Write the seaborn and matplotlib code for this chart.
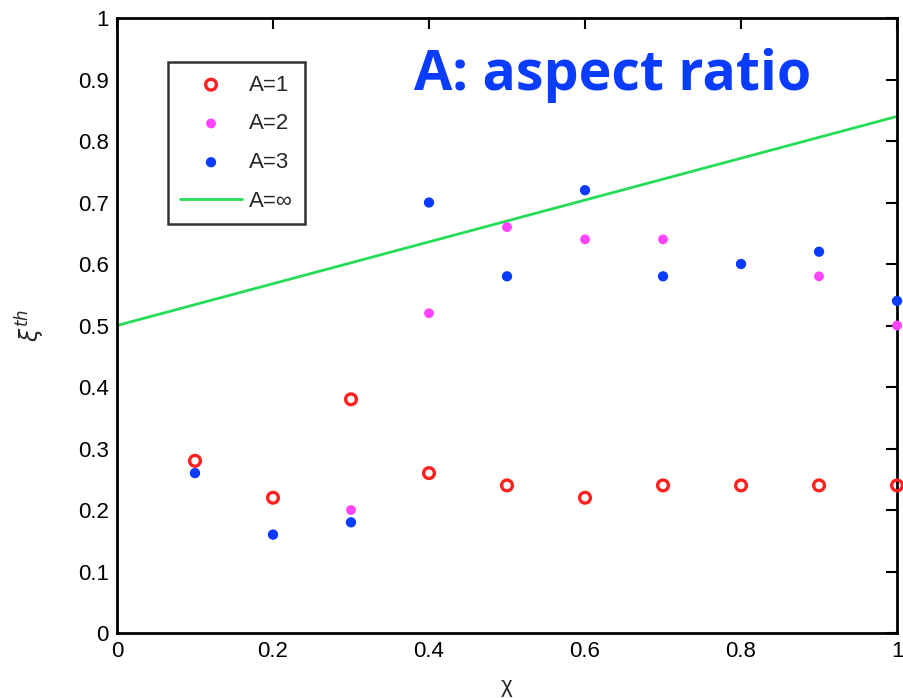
import seaborn as sns
import matplotlib.pyplot as plt
import pandas as pd

# Data
chi = [0.1, 0.2, 0.3, 0.4, 0.5, 0.6, 0.7, 0.8, 0.9, 1.0]
xi_a1 = [0.28, 0.22, 0.38, 0.26, 0.24, 0.22, 0.24, 0.24, 0.24, 0.24]
xi_a2 = [0.26, 0.16, 0.20, 0.52, 0.66, 0.64, 0.64, 0.60, 0.58, 0.50]
xi_a3 = [0.26, 0.16, 0.18, 0.70, 0.58, 0.72, 0.58, 0.60, 0.62, 0.54]
chi_inf = [0.0, 1.0]
xi_inf = [0.50, 0.84]

sns.set_style('white')
plt.rcParams['font.family'] = ['Liberation Sans', 'DejaVu Sans']

fig = plt.figure(figsize=(9.04, 6.98), dpi=100)
ax = fig.add_axes([0.1294, 0.0931, 0.8629, 0.8811])

df1 = pd.DataFrame({'chi': chi, 'xi': xi_a1})
df2 = pd.DataFrame({'chi': chi, 'xi': xi_a2})
df3 = pd.DataFrame({'chi': chi, 'xi': xi_a3})
dfi = pd.DataFrame({'chi': chi_inf, 'xi': xi_inf})

sns.scatterplot(data=df1, x='chi', y='xi', ax=ax, marker='o', s=60,
                facecolors='none', edgecolor='#ff2020', linewidth=2.4,
                label='A=1', clip_on=False, zorder=3)
sns.scatterplot(data=df2, x='chi', y='xi', ax=ax, marker='o', s=50,
                color='#ff44ff', edgecolor='none', label='A=2',
                clip_on=False, zorder=4)
sns.scatterplot(data=df3, x='chi', y='xi', ax=ax, marker='o', s=55,
                color='#0a3cff', edgecolor='none', label='A=3',
                clip_on=False, zorder=5)
sns.lineplot(data=dfi, x='chi', y='xi', ax=ax, color='#22dd55',
             linewidth=2, label='A=\u221e', zorder=2)

ax.set_xlim(0, 1)
ax.set_ylim(0, 1)
ax.set_xticks([0, 0.2, 0.4, 0.6, 0.8, 1])
ax.set_xticklabels(['0', '0.2', '0.4', '0.6', '0.8', '1'])
ax.set_yticks([i / 10 for i in range(11)])
ax.set_yticklabels(['0'] + [f'0.{i}' for i in range(1, 10)] + ['1'])
ax.tick_params(direction='in', length=8, width=1.5, top=True, right=True,
               labelsize=16, pad=6, colors='black')
for sp in ax.spines.values():
    sp.set_color('black')
    sp.set_linewidth(2)

ax.set_xlabel('\u03c7', fontsize=16, labelpad=10)
ax.set_ylabel(r'$\xi^{th}$', fontsize=17, labelpad=22)

leg = ax.legend(loc='upper left', bbox_to_anchor=(0.065, 0.928),
                borderaxespad=0, fontsize=16, frameon=True, fancybox=False,
                edgecolor='black', handlelength=2.8, labelspacing=0.8,
                borderpad=0.55, handletextpad=0.3)
leg.get_frame().set_linewidth(1.8)

ax.text(0.636, 0.906, 'A: aspect ratio', transform=ax.transAxes,
        fontsize=40, fontweight='bold', color='#0a3cff',
        family='Open Sans', ha='center', va='center')

fig.savefig('out.png', dpi=100)
